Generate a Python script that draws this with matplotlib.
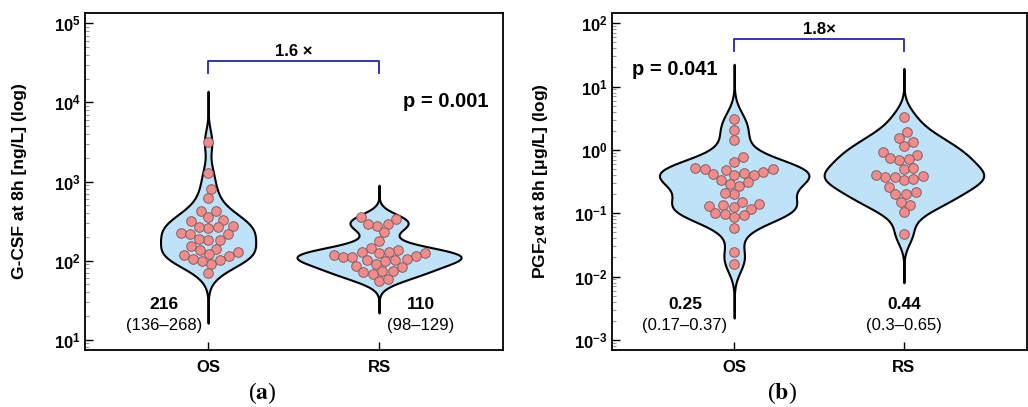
import numpy as np
import matplotlib
matplotlib.use('Agg')
import matplotlib.pyplot as plt
from matplotlib.ticker import LogLocator, FuncFormatter, NullFormatter

plt.rcParams['font.family'] = ['Liberation Sans', 'DejaVu Sans']
plt.rcParams['mathtext.fontset'] = 'custom'
plt.rcParams['mathtext.rm'] = 'Liberation Sans'
plt.rcParams['mathtext.bf'] = 'Liberation Sans:bold'
plt.rcParams['mathtext.it'] = 'Liberation Sans:italic'

groups = ['OS', 'RS']

# values
gcsf_os = [3200, 1290, 810, 620, 426, 426, 357, 330, 315, 275, 259, 264, 264,
           220, 224, 215, 183, 183, 188, 152, 142, 135, 115, 118, 120, 127,
           91, 98, 103, 105, 70]
gcsf_rs = [357, 340, 294, 277, 294, 228, 179, 138, 145, 125, 119, 125, 127,
           129, 111, 111, 114, 101, 98, 103, 105, 86, 91, 82, 68, 71, 73, 75,
           55, 59]
pgf_os = [3.1, 2.09, 1.44, 0.77, 0.65, 0.52, 0.43, 0.45, 0.48, 0.49, 0.50,
          0.40, 0.40, 0.42, 0.34, 0.27, 0.29, 0.31, 0.20, 0.21, 0.117, 0.126,
          0.13, 0.135, 0.14, 0.15, 0.088, 0.093, 0.096, 0.10, 0.059, 0.024,
          0.016]
pgf_rs = [3.27, 1.92, 1.55, 1.32, 1.14, 0.93, 0.84, 0.72, 0.68, 0.75, 0.50,
          0.52, 0.376, 0.33, 0.38, 0.37, 0.35, 0.40, 0.26, 0.20, 0.20, 0.22,
          0.137, 0.15, 0.105, 0.047]

gcsf_median = ['216', '110']
gcsf_iqr = ['(136\u2013268)', '(98\u2013129)']
pgf_median = ['0.25', '0.44']
pgf_iqr = ['(0.17\u20130.37)', '(0.3\u20130.65)']

VIOLIN_FILL = '#bee2f8'
DOT_FILL = '#f48b8b'
DOT_EDGE = '#806060'
BRACKET = '#2424a8'


def kde_outline(vals):
    lv = np.log10(vals)
    bw = 0.8 * lv.std(ddof=1) * len(lv) ** -0.2
    grid = np.linspace(lv.min() - 4.4 * bw, lv.max() + 4.4 * bw, 500)
    z = (grid[:, None] - lv[None, :]) / bw
    dens = np.exp(-0.5 * z ** 2).sum(1) / (len(lv) * bw * np.sqrt(2 * np.pi))
    return grid, dens


def swarm_x(ax, x0, vals, diam):
    # simple beeswarm in pixel space
    pts = ax.transData.transform(np.column_stack([np.full(len(vals), x0), vals]))
    ys = pts[:, 1]
    placed = []
    offs = np.zeros(len(vals))
    for i in np.argsort(ys):
        y = ys[i]
        cands = [0.0]
        for px, py in placed:
            dy = y - py
            if abs(dy) < diam:
                dx = np.sqrt(diam ** 2 - dy ** 2)
                cands += [px + dx, px - dx]
        cands.sort(key=abs)
        for c in cands:
            if all((c - px) ** 2 + (y - py) ** 2 >= diam ** 2 - 1e-6 for px, py in placed):
                break
        placed.append((c, y))
        offs[i] = c
    disp = np.column_stack([pts[:, 0] + offs, ys])
    return ax.transData.inverted().transform(disp)[:, 0]


def draw_panel(ax, data, ylim, max_half):
    ax.set_yscale('log')
    ax.set_xlim(-0.72, 1.725)
    ax.set_ylim(*ylim)
    outlines = [kde_outline(np.array(v, dtype=float)) for v in data]
    k = max_half / max(d.max() for g, d in outlines)
    for pos, (g, d) in enumerate(outlines):
        ax.fill_betweenx(10 ** g, pos - k * d, pos + k * d, facecolor=VIOLIN_FILL,
                         edgecolor='black', lw=1.5, zorder=1)
    for pos, v in enumerate(data):
        xs = swarm_x(ax, pos, np.array(v, dtype=float), 9.6)
        ax.scatter(xs, v, s=48, facecolor=DOT_FILL, edgecolor=DOT_EDGE,
                   linewidth=0.7, zorder=3)

    ax.set_xticks([0, 1])
    ax.set_xticklabels(groups, fontweight='bold')
    ax.yaxis.set_major_locator(LogLocator(base=10, numticks=12))
    ax.yaxis.set_minor_locator(LogLocator(base=10, subs=np.arange(2, 10), numticks=100))
    ax.yaxis.set_minor_formatter(NullFormatter())
    ax.yaxis.set_major_formatter(FuncFormatter(
        lambda v, p: r'$\mathbf{10^{%d}}$' % round(np.log10(v))))
    ax.tick_params(axis='y', which='major', direction='in', length=6, width=1,
                   labelsize=12, pad=3)
    ax.tick_params(axis='y', which='minor', direction='in', length=3, width=0.8,
                   color='#999999')
    ax.tick_params(axis='x', direction='in', length=6, width=1, pad=7, labelsize=12)
    for s in ax.spines.values():
        s.set_linewidth(1.3)


def bracket(ax, lo, hi, label, ty):
    tr = ax.get_xaxis_transform()
    ax.plot([0, 0, 1, 1], [lo, hi, hi, lo], transform=tr, color=BRACKET, lw=1.3,
            clip_on=False, zorder=4)
    ax.text(0.5, ty, label, transform=tr, ha='center', va='center', fontsize=12,
            fontweight='bold')


def medians(ax, xs, meds, iqrs):
    tr = ax.get_xaxis_transform()
    for x, m, q in zip(xs, meds, iqrs):
        ax.text(x, 0.134, m, transform=tr, ha='center', va='center', fontsize=12.5,
                fontweight='bold')
        ax.text(x, 0.072, q, transform=tr, ha='center', va='center', fontsize=12)


fig = plt.figure(figsize=(10.28, 4.07), dpi=100)
ax1 = fig.add_axes([0.0827, 0.140, 0.4066, 0.828])
ax2 = fig.add_axes([0.5953, 0.140, 0.4037, 0.828])

draw_panel(ax1, [gcsf_os, gcsf_rs], (10 ** 0.87, 10 ** 5.13), 0.48)
draw_panel(ax2, [pgf_os, pgf_rs], (10 ** -3.16, 10 ** 2.16), 0.47)

ax1.set_ylabel('G-CSF at 8h [ng/L] (log)', fontsize=12.5, fontweight='bold')
ax1.yaxis.set_label_coords(-0.139, 0.5)
ax2.set_ylabel(r'PGF$_\mathbf{2}$α at 8h [μg/L] (log)', fontsize=12.5, fontweight='bold')
ax2.yaxis.set_label_coords(-0.149, 0.5)

bracket(ax1, 0.822, 0.858, '1.6 \u00d7', 0.885)
bracket(ax2, 0.887, 0.923, '1.8\u00d7', 0.950)

medians(ax1, [-0.26, 1.245], gcsf_median, gcsf_iqr)
medians(ax2, [-0.29, 1.0], pgf_median, pgf_iqr)

ax1.text(0.864, 0.736, 'p = 0.001', transform=ax1.transAxes, ha='center',
         va='center', fontsize=14.5, fontweight='bold')
ax2.text(0.152, 0.831, 'p = 0.041', transform=ax2.transAxes, ha='center',
         va='center', fontsize=14.5, fontweight='bold')

fig.text(0.255, 0.034, r'($\mathbf{a}$)', ha='center', va='center', fontsize=17,
         family='Liberation Serif', math_fontfamily='stix')
fig.text(0.761, 0.034, r'($\mathbf{b}$)', ha='center', va='center', fontsize=17,
         family='Liberation Serif', math_fontfamily='stix')

fig.savefig('out.png', dpi=100)
